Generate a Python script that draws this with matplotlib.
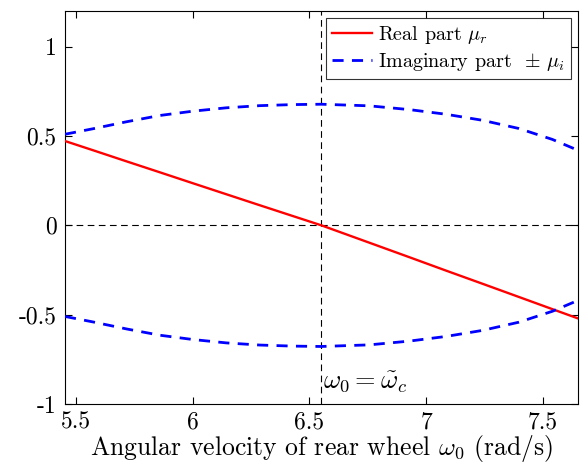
import numpy as np
import matplotlib
matplotlib.use("Agg")
import matplotlib.pyplot as plt

# rear-wheel angular velocity samples (rad/s)
omega = [5.453, 5.574, 5.717, 5.859, 6.0, 6.144, 6.286, 6.429, 6.551,
         6.756, 6.927, 7.084, 7.241, 7.397, 7.54, 7.65]
# real part of the eigenvalue
mu_r = [0.472, 0.420, 0.358, 0.297, 0.236, 0.174, 0.113, 0.052, 0.0,
        -0.097, -0.178, -0.253, -0.327, -0.401, -0.469, -0.521]
# imaginary part (plotted as +/-)
mu_i = [0.51, 0.541, 0.580, 0.615, 0.639, 0.658, 0.670, 0.676, 0.678,
        0.669, 0.648, 0.622, 0.588, 0.542, 0.481, 0.42]

omega_c = 6.551

xticks = [5.5, 6, 6.5, 7, 7.5]
xticklabels = ["5.5", "6", "6.5", "7", "7.5"]
yticks = [-1, -0.5, 0, 0.5, 1]
yticklabels = ["-1", "-0.5", "0", "0.5", "1"]

plt.rcParams["font.family"] = "serif"
plt.rcParams["font.serif"] = ["cmr10"]
plt.rcParams["mathtext.fontset"] = "cm"
plt.rcParams["axes.unicode_minus"] = False

fig = plt.figure(figsize=(5.83, 4.69), dpi=100)
ax = fig.add_axes([0.1115, 0.1386, 0.88, 0.838])

ax.axhline(0, color="black", lw=0.8, ls=(0, (6, 4)), zorder=1)
ax.axvline(omega_c, color="black", lw=0.8, ls=(0, (6, 4)), zorder=1)

ax.plot(omega, mu_r, color="red", lw=1.7, label=r"Real part $\mu_r$", zorder=3)
ax.plot(omega, mu_i, color="blue", lw=2.0, ls=(0, (4, 3)),
        label=r"Imaginary part $\,\pm\,\mu_i$", zorder=3)
ax.plot(omega, -np.array(mu_i), color="blue", lw=2.0, ls=(0, (4, 3)), zorder=3)

ax.text(omega_c + 0.005, -0.88, r"$\omega_0 = \tilde{\omega}_c$",
        ha="left", va="center", fontsize=19)

ax.set_xlim(5.453, 7.65)
ax.set_ylim(-1, 1.2)
ax.set_xticks(xticks)
ax.set_xticklabels(xticklabels)
ax.set_yticks(yticks)
ax.set_yticklabels(yticklabels)
ax.tick_params(direction="in", length=5, width=0.8, labelsize=17,
               top=True, right=True)
ax.tick_params(axis="x", pad=5)
ax.tick_params(axis="y", pad=6)
for s in ax.spines.values():
    s.set_linewidth(0.8)

ax.set_xlabel(r"Angular velocity of rear wheel $\omega_0$ (rad/s)",
              fontsize=18.5, labelpad=0)

leg = ax.legend(loc="upper right", fontsize=14.5, frameon=True, fancybox=False,
                edgecolor="black", handlelength=2.0, handletextpad=0.3,
                borderpad=0.3, labelspacing=0.25, borderaxespad=0.35)
leg.get_frame().set_linewidth(0.8)

fig.savefig("out.png", dpi=100)
